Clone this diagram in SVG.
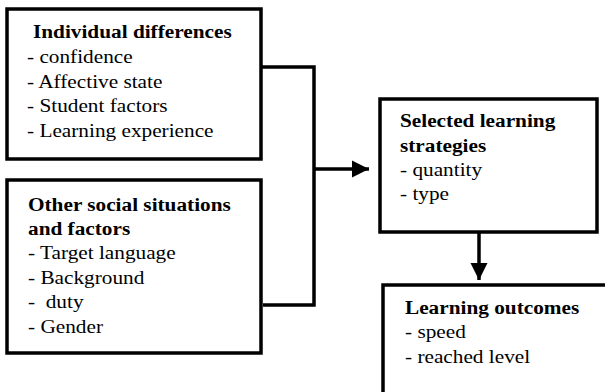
<svg xmlns="http://www.w3.org/2000/svg" width="605" height="392" viewBox="0 0 605 392">
<defs>
<style>
.box{fill:#fff;stroke:#000;stroke-width:3.5}
.t{font-family:"Liberation Serif","Times New Roman",serif;font-size:19px;fill:#000}
.b{font-weight:bold}
.c{fill:none;stroke:#000;stroke-width:3.5}
</style>
<marker id="ah" markerWidth="5" markerHeight="5" refX="5" refY="2.5" orient="auto" markerUnits="strokeWidth">
<path d="M0,0 L5,2.5 L0,5 Z" fill="#000"/>
</marker>
</defs>
<rect width="605" height="392" fill="#fff"/>
<g id="connectors">
<polyline class="c" points="261,67 314,67 314,305 263,305"/>
<line class="c" x1="314" y1="169" x2="369" y2="169" marker-end="url(#ah)"/>
<line class="c" x1="479" y1="232" x2="479" y2="280" marker-end="url(#ah)"/>
</g>
<g id="individual">
<rect class="box" x="7" y="9" width="254" height="150"/>
<text class="t b" transform="matrix(1.12,0,0,1,33,38)">Individual differences</text>
<text class="t" transform="matrix(1.12,0,0,1,27,63)">- confidence</text>
<text class="t" transform="matrix(1.12,0,0,1,27,88)">- Affective state</text>
<text class="t" transform="matrix(1.12,0,0,1,27,112)">- Student factors</text>
<text class="t" transform="matrix(1.12,0,0,1,27,137)">- Learning experience</text>
</g>
<g id="social">
<rect class="box" x="7" y="180" width="254" height="173"/>
<text class="t b" transform="matrix(1.12,0,0,1,28,211)">Other social situations</text>
<text class="t b" transform="matrix(1.12,0,0,1,28,235)">and factors</text>
<text class="t" transform="matrix(1.12,0,0,1,28,259)">- Target language</text>
<text class="t" transform="matrix(1.12,0,0,1,28,284)">- Background</text>
<text class="t" transform="matrix(1.12,0,0,1,28,308)" xml:space="preserve">-  duty</text>
<text class="t" transform="matrix(1.12,0,0,1,28,333)">- Gender</text>
</g>
<g id="strategies">
<rect class="box" x="380" y="99" width="217" height="133"/>
<text class="t b" transform="matrix(1.12,0,0,1,400,127)">Selected learning</text>
<text class="t b" transform="matrix(1.12,0,0,1,400,152)">strategies</text>
<text class="t" transform="matrix(1.12,0,0,1,400,176)">- quantity</text>
<text class="t" transform="matrix(1.12,0,0,1,400,200)">- type</text>
</g>
<g id="outcomes">
<rect class="box" x="383" y="285" width="240" height="130"/>
<text class="t b" transform="matrix(1.12,0,0,1,405,314)">Learning outcomes</text>
<text class="t" transform="matrix(1.12,0,0,1,405,338)">- speed</text>
<text class="t" transform="matrix(1.12,0,0,1,405,363)">- reached level</text>
</g>
</svg>
